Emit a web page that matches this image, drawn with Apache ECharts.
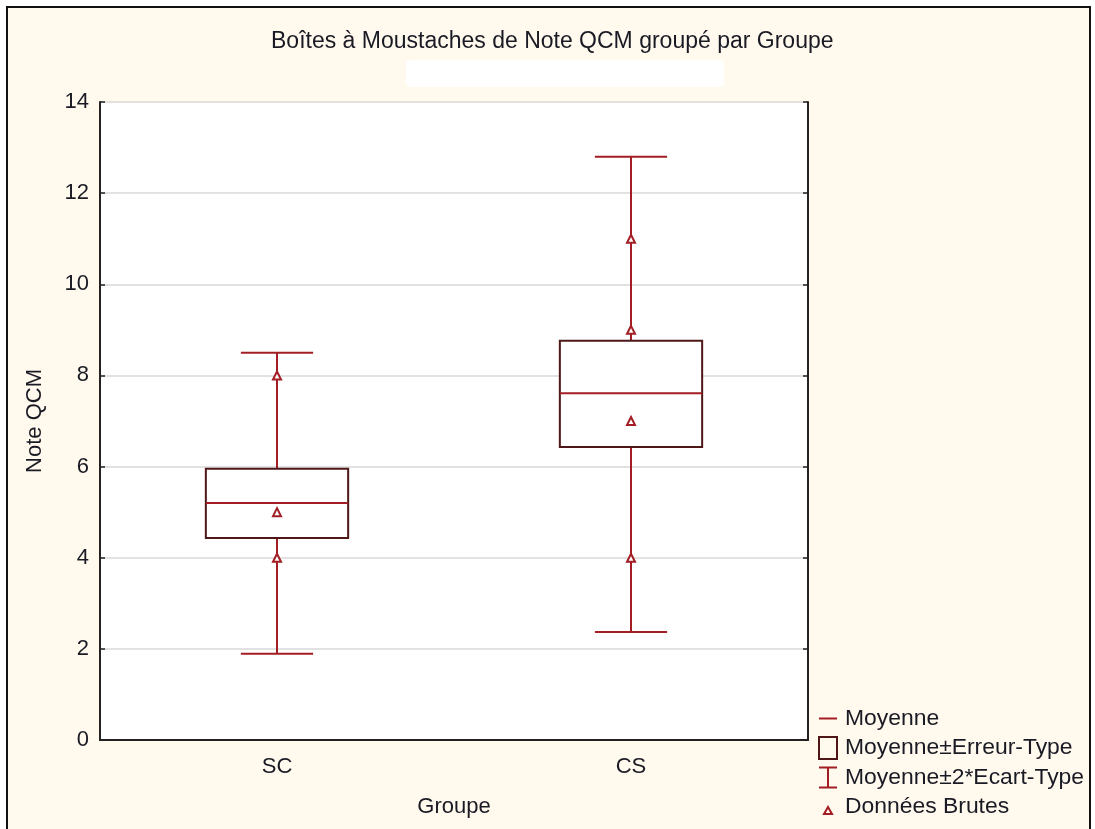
<!DOCTYPE html>
<html>
<head>
<meta charset="utf-8">
<script src="https://cdn.jsdelivr.net/npm/echarts@6/dist/echarts.min.js"></script>
<style>
  html, body { margin: 0; padding: 0; background: #ffffff; }
  #chart { width: 1095px; height: 829px; }
</style>
</head>
<body>
<div id="chart"></div>
<script>
// ---- data ----
const categories = ['SC', 'CS'];
const means      = [5.2, 7.61];
const seLow      = [4.43, 6.43];   // Moyenne - Erreur-Type
const seHigh     = [5.95, 8.76];   // Moyenne + Erreur-Type
const sdLow      = [1.89, 2.37];   // Moyenne - 2*Ecart-Type
const sdHigh     = [8.5, 12.8];    // Moyenne + 2*Ecart-Type
const rawSC      = [8, 5, 4];
const rawCS      = [11, 9, 7, 4];
const yTicks     = [0, 2, 4, 6, 8, 10, 12, 14];

// ---- styling ----
const RED = '#a21e24';
const DARK = '#4e1818';
const TXT = '#1a1a24';
const FONT = '"Liberation Sans", Arial, sans-serif';

const whiskerData = categories.map((c, i) => [i, sdLow[i], sdHigh[i]]);
const boxData = categories.map((c, i) => [i, seLow[i], seHigh[i]]);
const meanData = categories.map((c, i) => [i, means[i]]);
const rawData = rawSC.map(v => [0, v]).concat(rawCS.map(v => [1, v]));

function renderWhisker(params, api) {
  const x = api.value(0);
  const pLo = api.coord([x, api.value(1)]);
  const pHi = api.coord([x, api.value(2)]);
  const band = api.size([1, 0])[0];
  const half = band * 0.102;
  const style = { stroke: RED, lineWidth: 2, fill: null };
  return {
    type: 'group',
    children: [
      { type: 'line', shape: { x1: pLo[0], y1: pLo[1], x2: pHi[0], y2: pHi[1] }, style: style },
      { type: 'line', shape: { x1: pLo[0] - half, y1: pLo[1], x2: pLo[0] + half, y2: pLo[1] }, style: style },
      { type: 'line', shape: { x1: pHi[0] - half, y1: pHi[1], x2: pHi[0] + half, y2: pHi[1] }, style: style }
    ]
  };
}

function renderBox(params, api) {
  const x = api.value(0);
  const pLo = api.coord([x, api.value(1)]);
  const pHi = api.coord([x, api.value(2)]);
  const band = api.size([1, 0])[0];
  const half = band * 0.201;
  return {
    type: 'rect',
    shape: { x: pLo[0] - half, y: pHi[1], width: half * 2, height: pLo[1] - pHi[1] },
    style: { fill: '#ffffff', stroke: DARK, lineWidth: 2 }
  };
}

function renderMean(params, api) {
  const x = api.value(0);
  const p = api.coord([x, api.value(1)]);
  const band = api.size([1, 0])[0];
  const half = band * 0.201;
  return {
    type: 'line',
    shape: { x1: p[0] - half, y1: p[1], x2: p[0] + half, y2: p[1] },
    style: { stroke: RED, lineWidth: 2 }
  };
}

const chart = echarts.init(document.getElementById('chart'));
chart.setOption({
  animation: false,
  backgroundColor: '#ffffff',
  graphic: [
    {
      type: 'rect', z: -10, silent: true,
      shape: { x: 7, y: 7, width: 1083, height: 840 },
      style: { fill: '#fff9ee', stroke: '#111111', lineWidth: 2 }
    },
    {
      type: 'rect', z: -9, silent: true,
      shape: { x: 406, y: 60, width: 318, height: 27, r: 4 },
      style: { fill: '#ffffff' }
    }
  ],
  title: {
    text: 'Boîtes à Moustaches de Note QCM groupé par Groupe',
    left: 271,
    top: 30,
    padding: 0,
    textStyle: { fontFamily: FONT, fontSize: 23, fontWeight: 'normal', color: TXT }
  },
  legend: {
    orient: 'vertical',
    left: 818,
    top: 707,
    itemWidth: 18,
    itemHeight: 22,
    itemGap: 6,
    padding: 0,
    selectedMode: false,
    textStyle: { fontFamily: FONT, fontSize: 22.9, color: TXT, padding: [0, 0, 0, 3] },
    data: [
      { name: 'Moyenne', icon: 'path://M0,0 M18,22 M0,10 L18,10 L18,12 L0,12 Z',
        itemStyle: { color: RED, borderWidth: 0 } },
      { name: 'Moyenne±Erreur-Type', icon: 'rect',
        itemStyle: { color: 'rgba(255,255,255,0)', borderColor: DARK, borderWidth: 2 } },
      { name: 'Moyenne±2*Ecart-Type',
        icon: 'path://M0,0 L18,0 L18,2 L10,2 L10,20 L18,20 L18,22 L0,22 L0,20 L8,20 L8,2 L0,2 Z',
        itemStyle: { color: RED, borderWidth: 0 } },
      { name: 'Données Brutes', icon: 'path://M0,0 M18,22 M5,18 L9,11 L13,18 Z',
        itemStyle: { color: 'rgba(255,255,255,0)', borderColor: RED, borderWidth: 2 } }
    ]
  },
  grid: {
    left: 100, right: 287, top: 102, bottom: 89,
    show: true, backgroundColor: '#ffffff', borderColor: '#222222', borderWidth: 0
  },
  xAxis: [
    {
      type: 'category',
      data: categories,
      name: 'Groupe',
      nameLocation: 'middle',
      nameGap: 56,
      nameTextStyle: { fontFamily: FONT, fontSize: 22, color: TXT },
      axisLine: { lineStyle: { color: '#222222', width: 2 } },
      axisTick: { alignWithLabel: true, inside: true, length: 5, lineStyle: { color: '#222222', width: 1.5 } },
      axisLabel: { fontFamily: FONT, fontSize: 22, color: TXT, margin: 16 },
      splitLine: { show: false }
    },
    {
      type: 'category',
      data: categories,
      position: 'top',
      axisLine: { lineStyle: { color: '#222222', width: 2 } },
      axisTick: { alignWithLabel: true, inside: true, length: 5, lineStyle: { color: '#222222', width: 1.5 } },
      axisLabel: { show: false },
      splitLine: { show: false }
    }
  ],
  yAxis: [
    {
      type: 'value',
      min: yTicks[0],
      max: yTicks[yTicks.length - 1],
      interval: 2,
      name: 'Note QCM',
      nameLocation: 'middle',
      nameGap: 54,
      nameRotate: 90,
      nameTextStyle: { fontFamily: FONT, fontSize: 22, color: TXT },
      axisLine: { show: true, lineStyle: { color: '#222222', width: 2 } },
      axisTick: { show: true, inside: true, length: 5, lineStyle: { color: '#222222', width: 1.5 } },
      axisLabel: { fontFamily: FONT, fontSize: 22, color: TXT, margin: 11 },
      splitLine: { show: true, lineStyle: { color: '#d9d9d9', width: 1.5 } }
    },
    {
      type: 'value',
      position: 'right',
      min: yTicks[0],
      max: yTicks[yTicks.length - 1],
      interval: 2,
      axisLine: { show: true, lineStyle: { color: '#222222', width: 2 } },
      axisTick: { show: true, inside: true, length: 5, lineStyle: { color: '#222222', width: 1.5 } },
      axisLabel: { show: false },
      splitLine: { show: false }
    }
  ],
  series: [
    {
      name: 'Moyenne±2*Ecart-Type',
      type: 'custom',
      renderItem: renderWhisker,
      encode: { x: 0, y: [1, 2] },
      data: whiskerData,
      itemStyle: { color: RED },
      z: 2
    },
    {
      name: 'Moyenne±Erreur-Type',
      type: 'custom',
      renderItem: renderBox,
      encode: { x: 0, y: [1, 2] },
      data: boxData,
      itemStyle: { color: DARK },
      z: 3
    },
    {
      name: 'Moyenne',
      type: 'custom',
      renderItem: renderMean,
      encode: { x: 0, y: 1 },
      data: meanData,
      itemStyle: { color: RED },
      z: 4
    },
    {
      name: 'Données Brutes',
      type: 'scatter',
      data: rawData,
      symbol: 'triangle',
      symbolSize: [8, 8],
      itemStyle: { color: '#ffffff', borderColor: RED, borderWidth: 2, opacity: 1 },
      z: 5
    }
  ]
});
</script>
</body>
</html>
